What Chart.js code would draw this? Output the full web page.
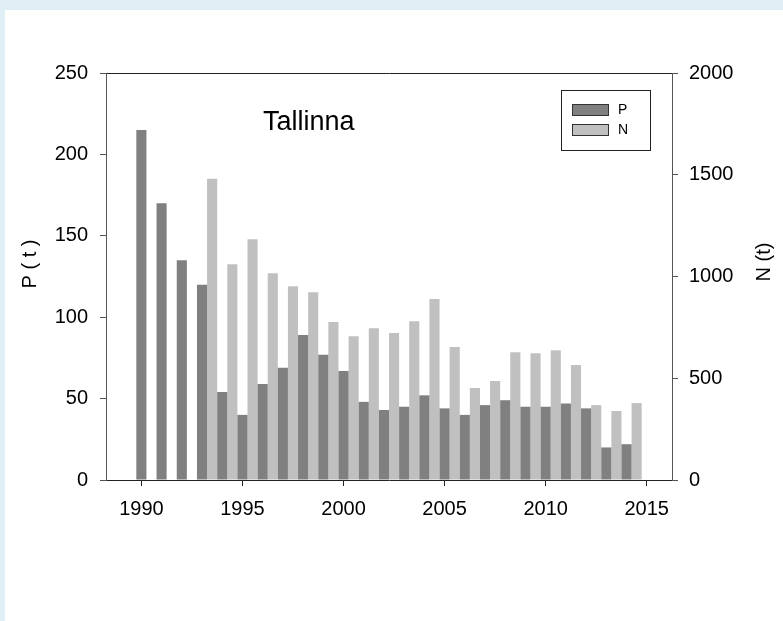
<!doctype html>
<html>
<head>
<meta charset="UTF-8"/>
<title>Tallinna</title>
<script src="https://cdn.jsdelivr.net/npm/chart.js@4.4.0/dist/chart.umd.min.js"></script>
<style>
  body { margin: 0; background: #e0eef6; }
  #wrap { position: absolute; left: 5px; top: 10px; width: 778px; height: 611px; background: #fff; }
</style>
</head>
<body>
<div id="wrap"><canvas id="myChart"></canvas></div>

<script>
    // data
    const years = [1990, 1991, 1992, 1993, 1994, 1995, 1996, 1997, 1998, 1999, 2000, 2001, 2002,
                   2003, 2004, 2005, 2006, 2007, 2008, 2009, 2010, 2011, 2012, 2013, 2014];
    const pValues = [215, 170, 135, 120, 54, 40, 59, 69, 89, 77, 67, 48, 43,
                     45, 52, 44, 40, 46, 49, 45, 45, 47, 44, 20, 22];
    const nValues = [null, null, null, 1480, 1060, 1183, 1016, 952, 923, 776, 707, 746, 722,
                     780, 889, 653, 452, 486, 628, 623, 638, 565, 368, 339, 378];
    const xTicks = [1990, 1995, 2000, 2005, 2010, 2015];
    const pTicks = [0, 50, 100, 150, 200, 250];
    const nTicks = [0, 500, 1000, 1500, 2000];
    const plotTitle = 'Tallinna';
    const pTitle = 'P ( t )';
    const nTitle = 'N (t)';

    const sans = "'Liberation Sans', Arial, sans-serif";
    const tickFont = {family: sans, size: 20};

    const setTicks = (list) => (scale) => { scale.ticks = list.map((v) => ({value: v})); };

    // title, axis titles and boxed legend
    const extras = {
        id: 'extras',
        afterDraw(chart) {
            const {ctx, chartArea: a} = chart;
            ctx.save();
            ctx.fillStyle = '#000';
            ctx.font = '27px ' + sans;
            ctx.textAlign = 'left';
            ctx.textBaseline = 'alphabetic';
            ctx.fillText(plotTitle, a.left + 157, a.top + 57);

            ctx.font = '20px ' + sans;
            ctx.textAlign = 'center';
            ctx.textBaseline = 'middle';
            [[pTitle, 25, 254], [nTitle, 759, 252]].forEach(([t, x, y]) => {
                ctx.save();
                ctx.translate(x, y);
                ctx.rotate(-Math.PI / 2);
                ctx.fillText(t, 0, 0);
                ctx.restore();
            });

            const bx = Math.round(a.right - 111), by = Math.round(a.top + 17);
            ctx.strokeStyle = '#222';
            ctx.lineWidth = 1;
            ctx.strokeRect(bx + 0.5, by + 0.5, 89, 60);
            ctx.font = '14px ' + sans;
            ctx.textAlign = 'left';
            chart.data.datasets.forEach((ds, i) => {
                const sy = by + 14 + i * 20;
                ctx.fillStyle = ds.backgroundColor;
                ctx.fillRect(bx + 11, sy, 36, 12);
                ctx.strokeStyle = '#333';
                ctx.strokeRect(bx + 11.5, sy + 0.5, 36, 11);
                ctx.fillStyle = '#000';
                ctx.fillText(ds.label, bx + 57, sy + 6);
            });
            ctx.restore();
        }
    };

    const ctx = document.getElementById('myChart').getContext('2d');
    const myChart = new Chart(ctx, {
        type: 'bar',
        data: {
            datasets: [
                {
                    label          : 'P',
                    data           : years.map((yr, i) => ({x: yr, y: pValues[i]})),
                    backgroundColor: '#808080',
                    xAxisID        : 'x',
                    yAxisID        : 'y',
                },
                {
                    label          : 'N',
                    data           : years.map((yr, i) => ({x: yr, y: nValues[i]})),
                    backgroundColor: '#c0c0c0',
                    xAxisID        : 'xN',
                    yAxisID        : 'y2',
                }
            ]
        },
        options: {
            responsive: true,
            maintainAspectRatio: false,
            animation: false,
            grouped: false,
            categoryPercentage: 1,
            barPercentage: 0.5,
            layout: {padding: {top: 63, left: 0, right: 0, bottom: 0}},
            plugins: {legend: {display: false}, tooltip: {enabled: false}},
            scales: {
                x: {
                    type: 'linear', position: 'bottom', offset: false,
                    min: 1988.25, max: 2016.25,
                    afterBuildTicks: setTicks(xTicks),
                    afterFit: (s) => { s.height = 141; },
                    grid: {offset: false, drawOnChartArea: false, tickLength: 6, tickColor: '#222'},
                    border: {color: '#222'},
                    ticks: {padding: 11, color: '#000', font: tickFont, callback: (v) => String(v)}
                },
                // same years, shifted half a year so N sits right of P
                xN: {
                    type: 'linear', position: 'bottom', display: false, offset: false,
                    min: 1988.25 - 0.5, max: 2016.25 - 0.5
                },
                xt: {
                    type: 'linear', position: 'top', offset: false,
                    afterFit: (s) => { s.height = 0; },
                    grid: {drawOnChartArea: false, drawTicks: false},
                    border: {color: '#222'},
                    ticks: {display: false}
                },
                y: {
                    position: 'left', min: 0, max: 250,
                    afterBuildTicks: setTicks(pTicks),
                    afterFit: (s) => { s.width = 101; },
                    grid: {drawOnChartArea: false, tickLength: 6, tickColor: '#555'},
                    border: {color: '#555'},
                    ticks: {padding: 12, color: '#000', font: tickFont, callback: (v) => String(v)}
                },
                y2: {
                    position: 'right', min: 0, max: 2000,
                    afterBuildTicks: setTicks(nTicks),
                    afterFit: (s) => { s.width = 111; },
                    grid: {drawOnChartArea: false, tickLength: 6, tickColor: '#555'},
                    border: {color: '#555'},
                    ticks: {padding: 11, color: '#000', font: tickFont, callback: (v) => String(v)}
                }
            }
        },
        plugins: [extras]
    });
</script>
</body>
</html>
